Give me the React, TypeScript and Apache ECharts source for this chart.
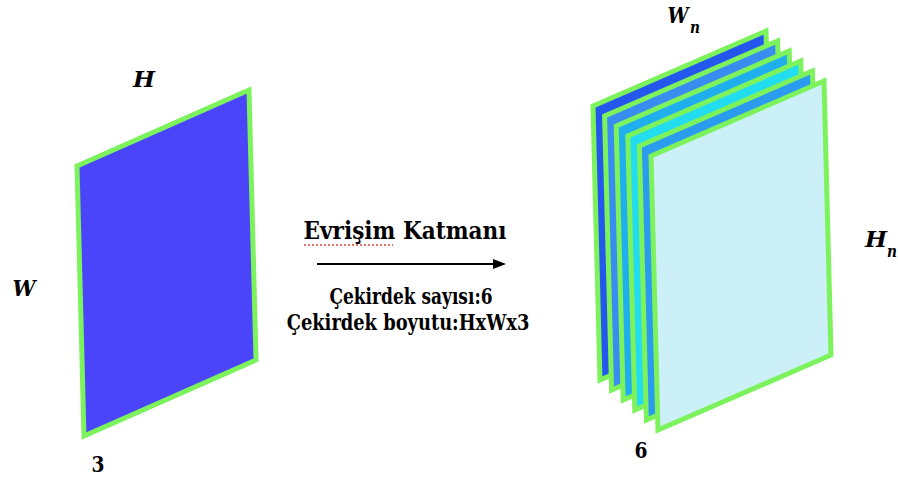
import React, { useEffect, useRef } from "react";
import * as echarts from "echarts";

// Input feature map (one sheet) and output feature maps (six sheets, back to front)
const inputSheets = ["#4A45FA"];
const outputSheets = ["#2457EE", "#3A8DF0", "#1FAFEF", "#22DCEF", "#2A9BEF", "#CCF0F8"];
const borderColor = "#7CF25C";

const titleText = "Evrişim Katmanı";
const kernelLines = ["Çekirdek sayısı:6", "Çekirdek boyutu:HxWx3"];
const inputLabels = { top: "H", side: "W", depth: "3" };
const outputLabels = { top: "W", side: "H", sub: "n", depth: "6" };

const FONT = "DejaVu Serif";

function measure(text: string, size: number, italic: boolean): number {
  const c = document.createElement("canvas").getContext("2d");
  if (!c) return text.length * size * 0.6;
  c.font = `${italic ? "italic " : ""}bold ${size}px "${FONT}"`;
  return c.measureText(text).width;
}

export default function App() {
  const ref = useRef<HTMLDivElement>(null);

  useEffect(() => {
    if (!ref.current) return;
    const chart = echarts.init(ref.current, undefined, { renderer: "svg" });

    const makeRender = (
      colors: string[],
      base: [number, number],
      step: [number, number],
      topVec: [number, number],
      leftVec: [number, number]
    ) =>
      (params: any, api: any) => {
        const i = api.value(0);
        const tl: [number, number] = [base[0] + step[0] * i, base[1] + step[1] * i];
        const tr: [number, number] = [tl[0] + topVec[0], tl[1] + topVec[1]];
        const br: [number, number] = [tr[0] + leftVec[0], tr[1] + leftVec[1]];
        const bl: [number, number] = [tl[0] + leftVec[0], tl[1] + leftVec[1]];
        const pts = [tl, tr, br, bl].map((p) => api.coord(p));
        return {
          type: "polygon",
          shape: { points: pts },
          style: {
            fill: colors[i],
            stroke: borderColor,
            lineWidth: 5,
            lineJoin: "miter",
          },
        };
      };

    // text element; if width is given, squeeze horizontally to that width (Times-like proportions)
    const txt = (
      text: string,
      x: number,
      y: number,
      size: number,
      italic = false,
      width?: number
    ) => {
      const sx = width ? width / measure(text, size, italic) : 1;
      return {
        type: "text",
        x,
        y,
        scaleX: sx,
        z: 100,
        style: {
          text,
          fill: "#000",
          fontFamily: FONT,
          fontSize: size,
          fontWeight: "bold",
          fontStyle: italic ? "italic" : "normal",
          align: "center",
          verticalAlign: "middle",
        },
      };
    };

    chart.setOption({
      animation: false,
      backgroundColor: "#ffffff",
      grid: { left: 0, right: 0, top: 0, bottom: 0 },
      xAxis: { type: "value", min: 0, max: 898, show: false },
      yAxis: { type: "value", min: 0, max: 495, inverse: true, show: false },
      series: [
        {
          type: "custom",
          renderItem: makeRender(inputSheets, [77, 166], [0, 0], [172, -76], [7, 270]),
          data: inputSheets.map((_, i) => [i]),
          clip: false,
        },
        {
          type: "custom",
          renderItem: makeRender(outputSheets, [593, 106], [11.6, 10], [173, -75], [7, 274]),
          data: outputSheets.map((_, i) => [i]),
          clip: false,
        },
      ],
      graphic: [
        txt(inputLabels.top, 144, 79, 23, true, 22),
        txt(inputLabels.side, 24, 288, 23, true, 23),
        txt(inputLabels.depth, 98, 464, 23, false, 13),
        txt(outputLabels.top, 678, 15, 23, true, 21),
        txt(outputLabels.sub, 695, 28, 16, true, 10),
        txt(outputLabels.side, 876, 239, 23, true, 22),
        txt(outputLabels.sub, 892, 252, 16, true, 10),
        txt(outputLabels.depth, 641, 450, 23, false, 13),
        txt(titleText, 405, 231, 24, false, 203),
        txt(kernelLines[0], 411, 297, 22, false, 163),
        txt(kernelLines[1], 408, 322, 22, false, 243),
        {
          type: "line",
          shape: { x1: 304, y1: 245, x2: 393, y2: 245 },
          style: { stroke: "#E04040", lineWidth: 1.5, lineDash: [2, 2] },
        },
        {
          type: "line",
          shape: { x1: 317, y1: 264, x2: 494, y2: 264 },
          style: { stroke: "#000", lineWidth: 2 },
        },
        {
          type: "polygon",
          shape: { points: [[493, 259], [506, 264], [493, 269]] },
          style: { fill: "#000" },
        },
      ],
    });

    return () => chart.dispose();
  }, []);

  return (
    <div
      ref={ref}
      style={{ position: "fixed", left: 0, top: 0, width: 898, height: 495 }}
    />
  );
}
